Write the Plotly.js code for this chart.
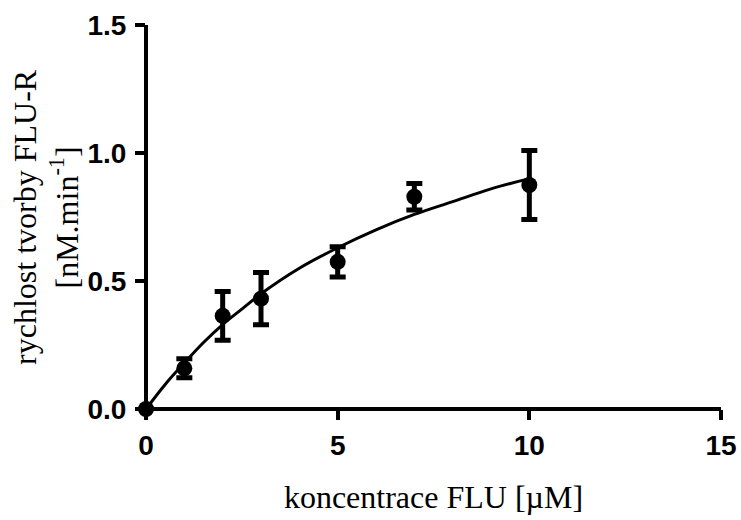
<!DOCTYPE html>
<html>
<head>
<meta charset="utf-8">
<script src="https://cdn.plot.ly/plotly-3.0.1.min.js"></script>
<style>html,body{margin:0;padding:0;background:#fff;}#chart{width:741px;height:520px;}</style>
</head>
<body>
<div id="chart"></div>
<script>
const concentration = [0, 1, 2, 3, 5, 7, 10];
const rate = [0, 0.159, 0.364, 0.431, 0.575, 0.829, 0.875];
const rateErr = [0, 0.037, 0.095, 0.102, 0.059, 0.052, 0.135];
// fitted curve, points
const fitX = [0, 0.5, 1, 1.5, 2, 2.5, 3, 4, 5, 6, 7, 8, 9, 10];
const fitY = [0, 0.096, 0.18, 0.26, 0.33, 0.39, 0.45, 0.55, 0.63, 0.70, 0.76, 0.81, 0.86, 0.90];
const xTicks = [0, 5, 10, 15];
const yTicks = [0, 0.5, 1.0, 1.5];
const xTitle = 'koncentrace FLU [µM]';
const yTitle = 'rychlost tvorby FLU-R<br>[nM.min<sup>-1</sup>]';

const tickFont = {family: 'Liberation Sans, Arial, sans-serif', size: 28, weight: 'bold', color: '#000'};
const serif = 'Liberation Serif, Times New Roman, serif';

const traces = [
  {x: fitX, y: fitY, type: 'scatter', mode: 'lines',
   line: {color: '#000', width: 3, shape: 'spline'}, cliponaxis: false, hoverinfo: 'skip'},
  {x: concentration, y: rate, type: 'scatter', mode: 'markers',
   marker: {color: '#000', size: 16, symbol: 'circle'},
   error_y: {type: 'data', array: rateErr, visible: true, color: '#000', thickness: 5, width: 8},
   cliponaxis: false}
];

const layout = {
  width: 741, height: 520,
  margin: {l: 146, r: 20, t: 25, b: 111},
  paper_bgcolor: '#fff', plot_bgcolor: '#fff',
  showlegend: false,
  xaxis: {
    range: [0, 15], tickvals: xTicks, ticktext: xTicks.map(String),
    ticks: 'outside', ticklen: 10, tickwidth: 4, tickcolor: '#000',
    showgrid: false, showline: false,
    zeroline: true, zerolinewidth: 4, zerolinecolor: '#000',
    tickfont: tickFont, ticklabelstandoff: 1,
    title: {text: xTitle, font: {family: serif, size: 32, color: '#000'}, standoff: 26},
    automargin: false
  },
  yaxis: {
    range: [0, 1.5], tickvals: yTicks, tickformat: '.1f',
    ticks: 'outside', ticklen: 10, tickwidth: 4, tickcolor: '#000',
    showgrid: false, showline: false,
    zeroline: true, zerolinewidth: 4, zerolinecolor: '#000',
    tickfont: tickFont, ticklabelstandoff: 3,
    automargin: false
  },
  annotations: [{
    text: yTitle, xref: 'paper', yref: 'paper',
    x: -0.174, y: 0.5, xanchor: 'center', yanchor: 'middle',
    textangle: -90, showarrow: false,
    font: {family: serif, size: 32, color: '#000'}
  }]
};

Plotly.newPlot('chart', traces, layout, {displayModeBar: false, staticPlot: true});
</script>
</body>
</html>
